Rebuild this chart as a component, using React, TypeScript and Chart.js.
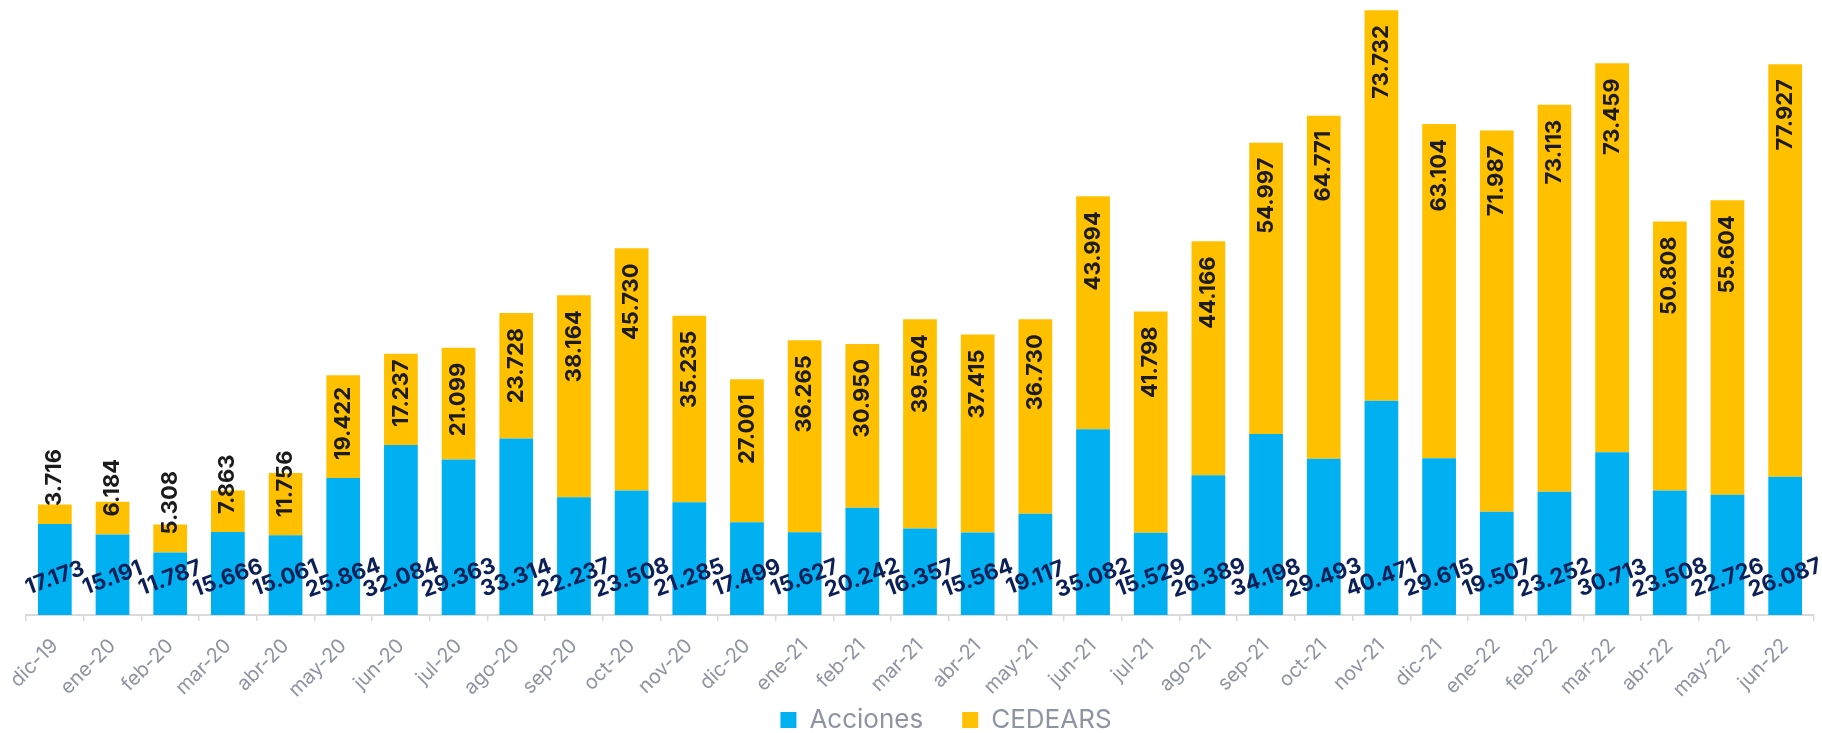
import React, { useEffect, useRef } from "react";
import { Chart, registerables } from "chart.js";

Chart.register(...registerables);

const categories = [
  "dic-19", "ene-20", "feb-20", "mar-20", "abr-20", "may-20", "jun-20", "jul-20",
  "ago-20", "sep-20", "oct-20", "nov-20", "dic-20", "ene-21", "feb-21", "mar-21",
  "abr-21", "may-21", "jun-21", "jul-21", "ago-21", "sep-21", "oct-21", "nov-21",
  "dic-21", "ene-22", "feb-22", "mar-22", "abr-22", "may-22", "jun-22",
];

const acciones = [
  17173, 15191, 11787, 15666, 15061, 25864, 32084, 29363,
  33314, 22237, 23508, 21285, 17499, 15627, 20242, 16357,
  15564, 19117, 35082, 15529, 26389, 34198, 29493, 40471,
  29615, 19507, 23252, 30713, 23508, 22726, 26087,
];

const cedears = [
  3716, 6184, 5308, 7863, 11756, 19422, 17237, 21099,
  23728, 38164, 45730, 35235, 27001, 36265, 30950, 39504,
  37415, 36730, 43994, 41798, 44166, 54997, 64771, 73732,
  63104, 71987, 73113, 73459, 50808, 55604, 77927,
];

const seriesNames = ["Acciones", "CEDEARS"];
const BLUE = "#00B0F0";
const YELLOW = "#FFC000";
const FONT = "Inter";

const fmt = (v: number) => {
  const t = Math.floor(v / 1000);
  const r = v % 1000;
  return `${t}.${String(r).padStart(3, "0")}`;
};

const barLabels = {
  id: "barLabels",
  afterLayout(chart: any) {
    if (chart.legend) {
      chart.legend.left += 26;
      chart.legend.right += 26;
    }
  },
  afterDatasetsDraw(chart: any) {
    const ctx = chart.ctx as CanvasRenderingContext2D;
    const metaA = chart.getDatasetMeta(0);
    const metaC = chart.getDatasetMeta(1);
    const base = chart.scales.y.getPixelForValue(0);
    ctx.save();
    ctx.font = `bold 22px ${FONT}`;
    metaA.data.forEach((bar: any, i: number) => {
      ctx.save();
      ctx.translate(bar.x, base - 37);
      ctx.rotate((-20 * Math.PI) / 180);
      ctx.textAlign = "center";
      ctx.textBaseline = "middle";
      ctx.fillStyle = "#0c1f57";
      ctx.fillText(fmt(acciones[i]), 0, 0);
      ctx.restore();
    });
    metaC.data.forEach((bar: any, i: number) => {
      const text = fmt(cedears[i]);
      const L = ctx.measureText(text).width;
      const top = bar.y;
      const boundary = bar.base;
      let end = top + 15;
      if (end + L > boundary - 18) end = boundary - 18 - L;
      ctx.save();
      ctx.translate(bar.x, end);
      ctx.rotate(-Math.PI / 2);
      ctx.textAlign = "right";
      ctx.textBaseline = "middle";
      ctx.fillStyle = "#1b1b1b";
      ctx.fillText(text, 0, 0);
      ctx.restore();
    });
    ctx.restore();
  },
};

export default function App() {
  const ref = useRef<HTMLCanvasElement | null>(null);
  useEffect(() => {
    if (!ref.current) return;
    const chart = new Chart(ref.current, {
      type: "bar",
      data: {
        labels: categories,
        datasets: [
          { label: seriesNames[0], data: acciones, backgroundColor: BLUE, borderWidth: 0 },
          { label: seriesNames[1], data: cedears, backgroundColor: YELLOW, borderWidth: 0 },
        ],
      },
      options: {
        animation: false,
        responsive: true,
        maintainAspectRatio: false,
        datasets: { bar: { categoryPercentage: 1, barPercentage: 0.585 } },
        layout: { padding: { left: 26, right: 8, top: 6, bottom: -10 } },
        scales: {
          x: {
            stacked: true,
            grid: {
              display: true,
              drawOnChartArea: false,
              drawTicks: true,
              tickLength: 6,
              color: "#d9d9d9",
              lineWidth: 1.5,
              offset: true,
            },
            border: { display: true, color: "#d9d9d9", width: 2 },
            ticks: {
              autoSkip: false,
              minRotation: 45,
              maxRotation: 45,
              color: "#8f94a3",
              font: { family: FONT, size: 20 },
              padding: 13,
            },
            afterFit: (s: any) => {
              s.height = 92;
              s.paddingLeft = 0;
              s.paddingRight = 0;
            },
          },
          y: { stacked: true, display: false, min: 0, max: 115000 },
        },
        plugins: {
          legend: {
            position: "bottom",
            labels: {
              boxWidth: 16,
              boxHeight: 16,
              padding: 0,
              color: "#8f94a3",
              font: { family: FONT, size: 26 },
              generateLabels: (c: any) =>
                Chart.defaults.plugins.legend.labels
                  .generateLabels(c)
                  .map((l: any, i: number) => ({
                    ...l,
                    text: i === 0 ? l.text + "\u2003\u2002" : l.text,
                  })),
            },
          },
          tooltip: { enabled: false },
        },
      },
      plugins: [barLabels],
    } as any);
    return () => chart.destroy();
  }, []);
  return (
    <div style={{ position: "fixed", left: 0, top: 0, width: "1822px", height: "733px", background: "#fff" }}>
      <canvas ref={ref} />
    </div>
  );
}
